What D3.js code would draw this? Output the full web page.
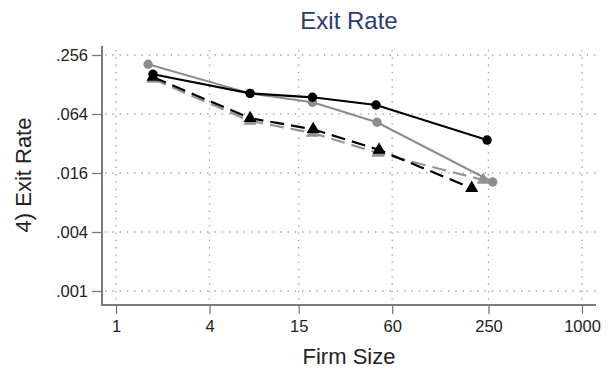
<!DOCTYPE html>
<html>
<head>
<meta charset="utf-8">
<script src="https://cdn.jsdelivr.net/npm/d3@7"></script>
<style>
  html, body { margin: 0; padding: 0; background: #fff; }
  svg { display: block; font-family: "Liberation Sans", Arial, Helvetica, sans-serif; }
</style>
</head>
<body>
<svg id="chart" width="613" height="371"></svg>
<script>
// ---- data ----
const xTicks = [1, 4, 15, 60, 250, 1000];
const yTicks = [0.001, 0.004, 0.016, 0.064, 0.256];
const yTickLabels = [".001", ".004", ".016", ".064", ".256"];

const blackCircleX = [1.73, 7.3, 18.4, 47.2, 245];
const blackCircleY = [0.163, 0.104, 0.0948, 0.0791, 0.0347];

const grayCircleX = [1.61, 7.3, 18.4, 47.9, 266];
const grayCircleY = [0.206, 0.104, 0.0843, 0.0527, 0.01295];

const blackTriX = [1.73, 7.3, 18.6, 49.4, 195];
const blackTriY = [0.1527, 0.0579, 0.0447, 0.0275, 0.0112];

const grayTriX = [1.73, 7.3, 18.4, 48.5, 231];
const grayTriY = [0.1457, 0.0543, 0.041, 0.0256, 0.01357];

// ---- layout ----
const svg = d3.select("#chart");
const pLeft = 102, pRight = 596, pTop = 46, pBottom = 305;

const x = d3.scaleLog().domain([1, 1000]).range([116, 582]);
const y = d3.scaleLog().base(4).domain([0.001, 0.256]).range([291, 55]);

const gridColor = "#9a9a9a";
const axisColor = "#7a7a7a";

// grid lines
svg.append("g").selectAll("line").data(yTicks).join("line")
  .attr("x1", pLeft + 3).attr("x2", pRight)
  .attr("y1", d => y(d)).attr("y2", d => y(d))
  .attr("stroke", gridColor).attr("stroke-width", 1.3)
  .attr("stroke-dasharray", "1.3,6").attr("stroke-linecap", "butt");
svg.append("g").selectAll("line").data(xTicks).join("line")
  .attr("x1", d => x(d)).attr("x2", d => x(d))
  .attr("y1", pTop + 4).attr("y2", pBottom - 2)
  .attr("stroke", gridColor).attr("stroke-width", 1.3)
  .attr("stroke-dasharray", "1.3,6").attr("stroke-linecap", "butt");

// axes
const yAxis = svg.append("g").attr("transform", `translate(${pLeft},0)`)
  .call(d3.axisLeft(y).tickValues(yTicks).tickFormat((d, i) => yTickLabels[i]).tickSize(10).tickPadding(4).tickSizeOuter(0));
yAxis.select(".domain").remove();
yAxis.append("line").attr("x1", 0).attr("x2", 0).attr("y1", pTop).attr("y2", pBottom + 1)
  .attr("stroke", axisColor).attr("stroke-width", 2);

const xAxis = svg.append("g").attr("transform", `translate(0,${pBottom})`)
  .call(d3.axisBottom(x).tickValues(xTicks).tickFormat(d3.format("d")).tickSize(9).tickPadding(6).tickSizeOuter(0));
xAxis.select(".domain").remove();
xAxis.append("line").attr("x1", pLeft - 1).attr("x2", pRight).attr("y1", 0).attr("y2", 0)
  .attr("stroke", axisColor).attr("stroke-width", 2);

[yAxis, xAxis].forEach(g => {
  g.selectAll(".tick line").attr("stroke", axisColor).attr("stroke-width", 1.3);
  g.selectAll(".tick text").attr("fill", "#222").style("font-size", "16.5px")
    .style("font-family", "\"Liberation Sans\", Arial, sans-serif");
});

// series
const series = [
  { xs: grayTriX, ys: grayTriY, color: "#939393", dash: "14,7", width: 2.2, marker: "tri" },
  { xs: blackTriX, ys: blackTriY, color: "#000", dash: "14,7", width: 2.2, marker: "tri" },
  { xs: grayCircleX, ys: grayCircleY, color: "#8c8c8c", dash: null, width: 2, marker: "circle" },
  { xs: blackCircleX, ys: blackCircleY, color: "#000", dash: null, width: 2.2, marker: "circle" }
];

const line = d3.line().x(d => x(d[0])).y(d => y(d[1]));
const tri = d3.symbol().type(d3.symbolTriangle).size(75);

series.forEach(s => {
  const pts = s.xs.map((v, i) => [v, s.ys[i]]);
  svg.append("path").datum(pts)
    .attr("d", line).attr("fill", "none")
    .attr("stroke", s.color).attr("stroke-width", s.width)
    .attr("stroke-dasharray", s.dash);
  const g = svg.append("g");
  if (s.marker === "circle") {
    g.selectAll("circle").data(pts).join("circle")
      .attr("cx", d => x(d[0])).attr("cy", d => y(d[1])).attr("r", 4.7)
      .attr("fill", s.color);
  } else {
    g.selectAll("path").data(pts).join("path")
      .attr("d", tri)
      .attr("transform", d => `translate(${x(d[0])},${y(d[1])})`)
      .attr("fill", s.color);
  }
});

// titles
svg.append("text").attr("x", 349).attr("y", 29).attr("text-anchor", "middle")
  .attr("fill", "#2b3d6b").style("font-size", "24px").text("Exit Rate");
svg.append("text").attr("x", 349).attr("y", 364).attr("text-anchor", "middle")
  .attr("fill", "#222").style("font-size", "22px").text("Firm Size");
svg.append("text").attr("transform", "translate(31,175) rotate(-90)").attr("text-anchor", "middle")
  .attr("fill", "#222").style("font-size", "22px").text("4) Exit Rate");
</script>
</body>
</html>
